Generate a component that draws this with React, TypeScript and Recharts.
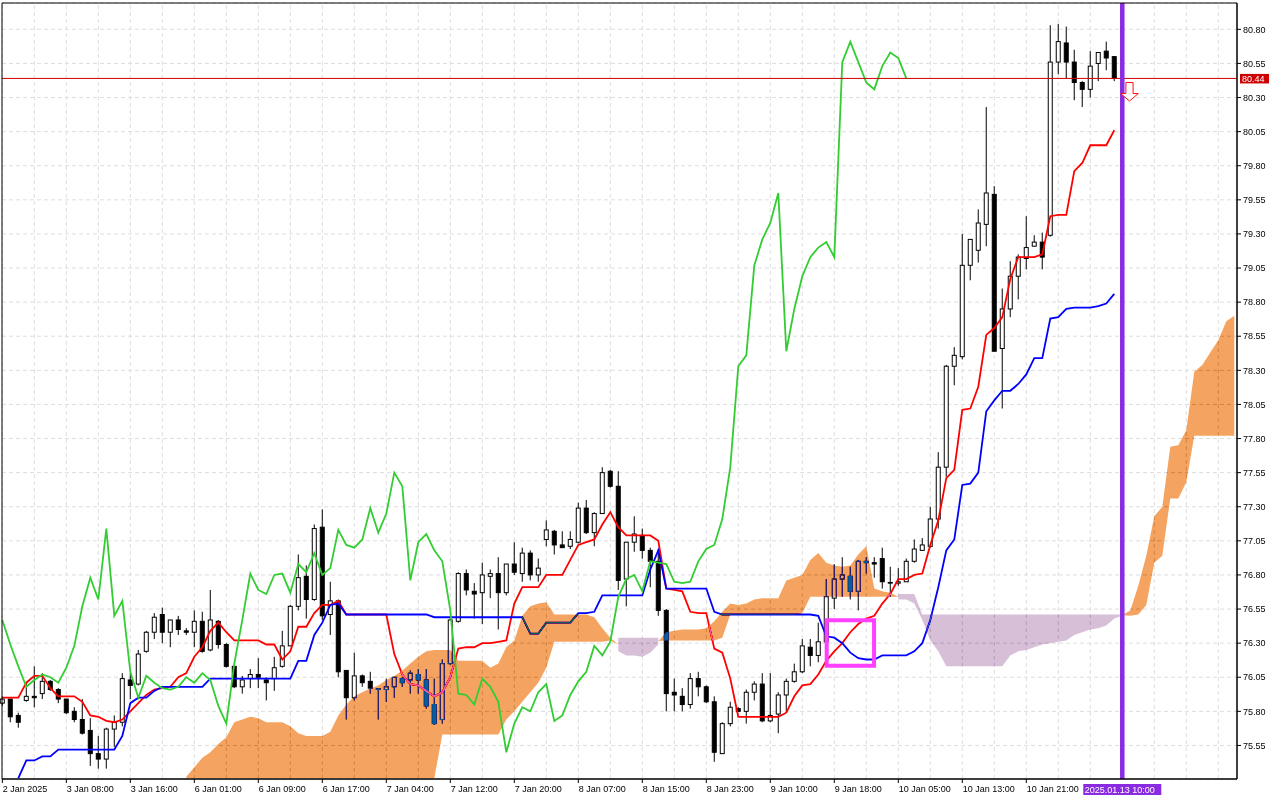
import React from "react";
import {
  ComposedChart,
  Bar,
  Line,
  Area,
  Scatter,
  XAxis,
  YAxis,
  CartesianGrid,
  ReferenceLine,
  ReferenceArea,
} from "recharts";

// hourly candles, bar 0 = 2 Jan 2025
const opens = [
  75.86, 75.89, 75.77, 75.88, 75.91, 75.93, 76.02, 75.96, 75.89, 75.8,
  75.74, 75.66, 75.49, 75.45, 75.67, 75.72, 76.03, 76.0, 76.24, 76.38,
  76.51, 76.38, 76.47, 76.39, 76.38, 76.46, 76.25, 76.46, 76.29, 76.13,
  75.98, 76.04, 76.07, 76.03, 76.04, 76.13, 76.28, 76.57, 76.79, 76.62,
  77.15, 76.51, 76.61, 76.1, 75.9, 76.06, 76.02, 75.965, 75.96, 75.98,
  76.04, 76.03, 76.07, 76.03, 75.85, 75.74, 76.15, 76.46, 76.81, 76.68,
  76.67, 76.79, 76.81, 76.67, 76.88, 76.81, 76.96, 76.8, 77.06, 77.12,
  77.02, 77.01, 77.04, 77.29, 77.11, 77.25, 77.56, 77.45, 76.77, 77.04,
  77.09, 76.98, 76.9, 76.54, 75.94, 75.91, 75.85, 76.04, 75.98, 75.87,
  75.49, 75.71, 75.82, 75.8, 75.94, 76.0, 75.73, 75.78, 75.92, 76.02,
  76.09, 76.27, 76.21, 76.31, 76.63, 76.77, 76.79, 76.68, 76.9, 76.89,
  76.92, 76.745, 76.74, 76.75, 76.9, 76.98, 77.01, 77.21, 77.59, 78.33,
  78.4, 79.07, 79.18, 79.37, 79.59, 78.46, 78.75, 78.99, 79.12, 79.21,
  79.24, 79.29, 80.56, 80.7, 80.56, 80.41, 80.36, 80.55, 80.64, 80.6,
];
const highs = [
  75.91, 75.89, 75.79, 76.01, 76.13, 76.08, 76.03, 75.97, 75.89, 75.83,
  75.89, 75.75, 75.62, 75.68, 75.77, 76.08, 76.08, 76.25, 76.39, 76.52,
  76.56, 76.47, 76.5, 76.41, 76.54, 76.53, 76.69, 76.47, 76.3, 76.13,
  76.06, 76.11, 76.19, 76.05, 76.2, 76.39, 76.58, 76.95, 76.87, 77.17,
  77.28, 76.75, 76.62, 76.1, 76.23, 76.07, 76.09, 75.97, 76.04, 76.05,
  76.05, 76.1, 76.11, 76.11, 76.04, 76.18, 76.48, 76.82, 76.84, 76.74,
  76.89, 76.84, 76.93, 76.88, 77.04, 77.0, 76.98, 76.92, 77.2, 77.13,
  77.12, 77.12, 77.33, 77.35, 77.26, 77.59, 77.57, 77.56, 77.04, 77.23,
  77.14, 77.0, 76.99, 76.55, 76.04, 75.97, 76.08, 76.09, 75.99, 75.91,
  75.72, 75.87, 75.83, 75.96, 76.02, 76.08, 76.08, 75.94, 76.04, 76.15,
  76.33, 76.33, 76.45, 76.77, 76.88, 76.93, 76.86, 76.91, 76.93, 76.93,
  77.0, 76.86, 76.85, 76.92, 77.06, 77.07, 77.3, 77.7, 78.34, 78.47,
  79.3, 79.26, 79.48, 80.23, 79.65, 78.9, 79.1, 79.15, 79.43, 79.29,
  79.31, 80.83, 80.84, 80.82, 80.65, 80.42, 80.64, 80.63, 80.71, 80.6,
];
const lows = [
  75.84, 75.72, 75.68, 75.87, 75.83, 75.89, 75.95, 75.86, 75.78, 75.72,
  75.63, 75.4, 75.38, 75.38, 75.54, 75.69, 75.89, 75.99, 76.23, 76.33,
  76.3, 76.27, 76.36, 76.36, 76.27, 76.23, 76.24, 76.26, 76.12, 75.97,
  75.93, 75.97, 75.97, 75.88, 75.95, 76.12, 76.28, 76.54, 76.48, 76.61,
  76.47, 76.36, 76.05, 75.74, 75.88, 75.98, 75.93, 75.74, 75.87, 75.9,
  75.98, 75.93, 75.93, 75.82, 75.7, 75.71, 76.14, 76.45, 76.65, 76.48,
  76.44, 76.63, 76.4, 76.65, 76.8, 76.75, 76.76, 76.75, 77.01, 76.95,
  77.0, 76.99, 77.03, 77.1, 77.01, 77.25, 77.44, 76.69, 76.57, 76.97,
  76.92, 76.71, 76.5, 75.8, 75.8, 75.8, 75.82, 75.91, 75.86, 75.43,
  75.49, 75.69, 75.8, 75.71, 75.88, 75.72, 75.72, 75.64, 75.79, 76.01,
  76.08, 76.13, 76.16, 76.3, 76.55, 76.64, 76.62, 76.54, 76.81, 76.78,
  76.7, 76.64, 76.72, 76.75, 76.89, 76.98, 77.0, 77.14, 77.52, 78.19,
  78.38, 78.96, 79.09, 79.21, 78.44, 78.02, 78.69, 78.82, 79.04, 79.21,
  79.04, 79.28, 80.47, 80.44, 80.28, 80.23, 80.3, 80.42, 80.5, 80.42,
];
const closes = [
  75.89, 75.76, 75.72, 75.91, 75.9, 76.02, 75.96, 75.89, 75.79, 75.74,
  75.64, 75.49, 75.45, 75.67, 75.72, 76.04, 75.99, 76.22, 76.38, 76.49,
  76.38, 76.47, 76.4, 76.38, 76.46, 76.24, 76.47, 76.29, 76.13, 75.98,
  76.03, 76.07, 76.05, 76.01, 76.12, 76.28, 76.57, 76.78, 76.62, 77.14,
  76.5, 76.61, 76.09, 75.9, 76.06, 76.01, 75.97, 75.96, 75.98, 76.05,
  76.01, 76.08, 76.03, 75.84, 75.71, 76.15, 76.47, 76.81, 76.69, 76.66,
  76.8, 76.81, 76.67, 76.88, 76.82, 76.96, 76.8, 76.85, 77.13, 77.02,
  77.0, 77.06, 77.29, 77.11, 77.25, 77.55, 77.45, 76.76, 77.04, 77.1,
  76.98, 76.9, 76.54, 75.93, 75.92, 75.85, 76.04, 75.98, 75.87, 75.5,
  75.71, 75.83, 75.8, 75.94, 76.0, 75.73, 75.77, 75.92, 76.02, 76.09,
  76.28, 76.21, 76.31, 76.64, 76.77, 76.8, 76.68, 76.9, 76.89, 76.88,
  76.75, 76.74, 76.75, 76.9, 76.99, 77.02, 77.21, 77.59, 78.33, 78.41,
  79.07, 79.26, 79.38, 79.6, 78.44, 78.75, 78.99, 79.13, 79.2, 79.24,
  79.13, 80.56, 80.71, 80.56, 80.41, 80.36, 80.53, 80.63, 80.59, 80.44,
];

// Tenkan-sen (red) and Kijun-sen (blue), one value per bar
const tenkan = [
  75.9, 75.9, 75.9, 76.01, 76.06, 76.06, 75.97, 75.91, 75.91, 75.91,
  75.87, 75.77, 75.76, 75.73, 75.72, 75.74, 75.8, 75.86, 75.92, 75.96,
  75.97, 75.98, 76.05, 76.08, 76.2, 76.27, 76.39, 76.45, 76.38, 76.32,
  76.32, 76.32, 76.32, 76.29, 76.29, 76.18, 76.24, 76.42, 76.42, 76.52,
  76.58, 76.58, 76.61, 76.51, 76.51, 76.51, 76.51, 76.51, 76.51, 76.22,
  76.07, 76.0, 75.99, 75.95, 75.91, 75.94, 76.05, 76.26, 76.27, 76.27,
  76.3, 76.3, 76.31, 76.32, 76.59, 76.71, 76.71, 76.71, 76.8, 76.8,
  76.8, 76.91, 77.02, 77.04, 77.06, 77.17, 77.26, 77.15, 77.09, 77.09,
  77.09, 77.09, 77.05, 76.7, 76.69, 76.68, 76.53, 76.52, 76.52, 76.26,
  76.23, 76.04, 75.76, 75.76, 75.76, 75.76, 75.76, 75.76, 75.79, 75.91,
  75.99, 76.0, 76.07, 76.17, 76.24, 76.3, 76.38, 76.44, 76.48, 76.5,
  76.59, 76.66, 76.77, 76.77, 76.8, 76.81, 77.02, 77.2, 77.51, 77.57,
  78.01, 78.02, 78.18, 78.56, 78.61, 78.69, 78.97, 79.13, 79.13, 79.13,
  79.15, 79.43, 79.44, 79.44, 79.76, 79.82, 79.95, 79.95, 79.95, 80.06,
];
const kijun = [
  null, null, 75.31, 75.44, 75.44, 75.47, 75.47, 75.52, 75.52, 75.52,
  75.52, 75.52, 75.52, 75.52, 75.52, 75.62, 75.86, 75.9, 75.9, 75.95,
  75.98, 75.98, 75.98, 75.98, 75.98, 75.98, 76.04, 76.04, 76.04, 76.04,
  76.04, 76.04, 76.04, 76.04, 76.04, 76.04, 76.04, 76.17, 76.17, 76.36,
  76.45, 76.58, 76.59, 76.51, 76.51, 76.51, 76.51, 76.51, 76.51, 76.51,
  76.51, 76.51, 76.51, 76.51, 76.49, 76.49, 76.49, 76.49, 76.49, 76.49,
  76.49, 76.49, 76.49, 76.49, 76.49, 76.49, 76.37, 76.37, 76.45, 76.45,
  76.45, 76.45, 76.52, 76.52, 76.53, 76.65, 76.65, 76.65, 76.65, 76.65,
  76.65, 76.84, 76.98, 76.7, 76.7, 76.7, 76.7, 76.7, 76.7, 76.53,
  76.51, 76.51, 76.51, 76.51, 76.51, 76.51, 76.51, 76.51, 76.51, 76.51,
  76.51, 76.51, 76.5, 76.35, 76.34, 76.3, 76.23, 76.19, 76.18, 76.18,
  76.21, 76.21, 76.21, 76.21, 76.24, 76.3, 76.47, 76.71, 76.98, 77.06,
  77.46, 77.47, 77.55, 78.0, 78.08, 78.15, 78.15, 78.2, 78.27, 78.39,
  78.39, 78.68, 78.69, 78.75, 78.76, 78.76, 78.76, 78.77, 78.79, 78.86,
];

// Senkou spans, already shifted 26 bars ahead; first value is bar 23
const cloudStart = 23;
const spanA = [
  75.32, 75.39, 75.46, 75.5, 75.56, 75.61, 75.72, 75.74, 75.76, 75.75,
  75.72, 75.72, 75.72, 75.69, 75.64, 75.62, 75.62, 75.62, 75.65, 75.77,
  75.85, 75.91, 75.94, 75.97, 75.99, 76.03, 76.06, 76.1, 76.15, 76.2,
  76.24, 76.25, 76.25, 76.25, 76.17, 76.17, 76.17, 76.17, 76.12, 76.15,
  76.27, 76.32, 76.5, 76.57, 76.59, 76.6, 76.51, 76.51, 76.51, 76.51,
  76.51, 76.49, 76.41, 76.34, 76.24, 76.21, 76.21, 76.2, 76.23, 76.29,
  76.38, 76.39, 76.4, 76.4, 76.4, 76.41, 76.46, 76.53, 76.59, 76.58,
  76.59, 76.62, 76.63, 76.63, 76.63, 76.76, 76.78, 76.8, 76.91, 76.96,
  76.89, 76.87, 76.86, 76.87, 76.95, 77.01, 76.7, 76.68, 76.67, 76.62,
  76.62, 76.59, 76.47, 76.32, 76.24, 76.13, 76.13, 76.13, 76.13, 76.13,
  76.13, 76.13, 76.13, 76.21, 76.24, 76.25, 76.27, 76.29, 76.3, 76.31,
  76.32, 76.36, 76.38, 76.4, 76.41, 76.43, 76.48, 76.5, 76.54, 76.72,
  76.94, 77.23, 77.3, 77.74, 77.75, 77.86, 78.29, 78.34, 78.43, 78.52,
  78.66, 78.7,
];
const spanB = [
  75.31, 75.31, 75.31, 75.31, 75.31, 75.31, 75.31, 75.31, 75.31, 75.31,
  75.31, 75.31, 75.31, 75.31, 75.31, 75.31, 75.31, 75.31, 75.31, 75.31,
  75.31, 75.31, 75.31, 75.31, 75.31, 75.31, 75.31, 75.31, 75.31, 75.31,
  75.31, 75.31, 75.63, 75.63, 75.63, 75.63, 75.63, 75.63, 75.63, 75.63,
  75.74, 75.8, 75.87, 75.94, 76.01, 76.12, 76.31, 76.31, 76.31, 76.31,
  76.31, 76.31, 76.31, 76.32, 76.34, 76.34, 76.34, 76.34, 76.34, 76.34,
  76.32, 76.32, 76.32, 76.32, 76.32, 76.32, 76.32, 76.34, 76.51, 76.51,
  76.51, 76.51, 76.51, 76.51, 76.51, 76.51, 76.51, 76.52, 76.64, 76.64,
  76.64, 76.64, 76.64, 76.64, 76.64, 76.64, 76.64, 76.64, 76.64, 76.66,
  76.66, 76.66, 76.51, 76.51, 76.51, 76.51, 76.51, 76.51, 76.51, 76.51,
  76.51, 76.51, 76.51, 76.51, 76.51, 76.51, 76.51, 76.51, 76.51, 76.51,
  76.51, 76.51, 76.51, 76.51, 76.51, 76.51, 76.51, 76.51, 76.5, 76.51,
  76.58, 76.89, 76.94, 77.36, 77.36, 77.48, 77.82, 77.82, 77.82, 77.82,
  77.82, 77.82,
];

const timeTickBars = [0, 8, 16, 24, 32, 40, 48, 56, 64, 72, 80, 88, 96, 104, 112, 120, 128];
const timeLabels = [
  "2 Jan 2025", "3 Jan 08:00", "3 Jan 16:00", "6 Jan 01:00", "6 Jan 09:00",
  "6 Jan 17:00", "7 Jan 04:00", "7 Jan 12:00", "7 Jan 20:00", "8 Jan 07:00",
  "8 Jan 15:00", "8 Jan 23:00", "9 Jan 10:00", "9 Jan 18:00", "10 Jan 05:00",
  "10 Jan 13:00", "10 Jan 21:00",
];
const priceTicks = [
  80.8, 80.55, 80.3, 80.05, 79.8, 79.55, 79.3, 79.05, 78.8, 78.55, 78.3,
  78.05, 77.8, 77.55, 77.3, 77.05, 76.8, 76.55, 76.3, 76.05, 75.8, 75.55,
];

const lastPrice = 80.44;
const cursorBar = 140;
const cursorLabel = "2025.01.13 10:00";
const chikouShift = 26;
const signalBox = { x1: 103.05, x2: 108.97, y1: 76.134, y2: 76.467 };
const signalArrow = [{ i: 140.9, price: 80.41 }];

const PRICE_MIN = 75.304;
const PRICE_MAX = 80.993;
const BAR_MIN = -0.04;
const BAR_MAX = 154.34;
const TOTAL_BARS = 155;

const FONT = "'Liberation Sans', Arial, sans-serif";

const isOrange = (j: number) => {
  const k = j - cloudStart;
  if (k < 0 || k >= spanA.length) return null;
  return spanA[k] >= spanB[k];
};

const rows = Array.from({ length: TOTAL_BARS }, (_, i) => {
  const has = i < opens.length;
  const k = i - cloudStart;
  let orange: number[] | null = null;
  let lilac: number[] | null = null;
  if (k >= 0 && k < spanA.length) {
    const a = spanA[k];
    const b = spanB[k];
    if (a >= b) {
      orange = [b, a];
    } else {
      lilac = [a, b];
      // let the orange fill taper into its neighbour so no white gap shows
      if (isOrange(i - 1) || isOrange(i + 1)) orange = [(a + b) / 2, (a + b) / 2];
    }
  }
  const ch = i + chikouShift < closes.length ? closes[i + chikouShift] : null;
  return {
    i,
    o: has ? opens[i] : null,
    h: has ? highs[i] : null,
    l: has ? lows[i] : null,
    c: has ? closes[i] : null,
    range: has ? [lows[i], highs[i]] : null,
    tenkan: has ? tenkan[i] : null,
    kijun: has ? kijun[i] : null,
    chikou: ch,
    orange,
    lilac,
  };
});

const gridBars = Array.from({ length: 39 }, (_, k) => k * 4);

const Candle = (props: any) => {
  const { x, y, width, height, payload } = props;
  if (payload == null || payload.h == null) return null;
  const cx = x + width / 2;
  const span = payload.h - payload.l;
  const k = span > 0 ? height / span : 0;
  const py = (p: number) => y + (payload.h - p) * k;
  const top = py(Math.max(payload.o, payload.c));
  const bot = py(Math.min(payload.o, payload.c));
  const up = payload.c >= payload.o;
  return (
    <g>
      <line x1={cx} x2={cx} y1={y} y2={y + height} stroke="#000" strokeWidth={1} />
      <rect
        x={cx - 2}
        y={top}
        width={4}
        height={Math.max(bot - top, 0.4)}
        fill={up ? "#fff" : "#000"}
        stroke="#000"
        strokeWidth={1}
      />
    </g>
  );
};

const TimeTick = (props: any) => {
  const { x, y, payload } = props;
  const idx = timeTickBars.indexOf(payload.value);
  return (
    <text x={x + 0.5} y={y} dy={7} fontSize={9} fontFamily={FONT} fill="#000" textAnchor="start">
      {idx >= 0 ? timeLabels[idx] : ""}
    </text>
  );
};

const PriceTag = (props: any) => {
  const vb = props.viewBox || {};
  const x = vb.x + vb.width + 3;
  const y = vb.y;
  return (
    <g>
      <rect x={x} y={y - 4.5} width={29} height={9.5} fill="#cc0000" />
      <text x={x + 2} y={y + 3.4} fontSize={9} fontFamily={FONT} fill="#fff">
        {lastPrice.toFixed(2)}
      </text>
    </g>
  );
};

const CursorTag = (props: any) => {
  const vb = props.viewBox || {};
  const x = vb.x;
  const y = vb.y + vb.height;
  return (
    <g>
      <rect x={x - 39} y={y + 5} width={78} height={11} fill="#8a2be2" />
      <text x={x - 37.5} y={y + 14} fontSize={9} fontFamily={FONT} fill="#fff">
        {cursorLabel}
      </text>
    </g>
  );
};

const Arrow = (props: any) => {
  const { cx, cy } = props;
  const d = `M${cx - 3.6},${cy} L${cx + 3.6},${cy} L${cx + 3.6},${cy + 11} L${cx + 8.8},${cy + 11} L${cx},${cy + 18.5} L${cx - 8.8},${cy + 11} L${cx - 3.6},${cy + 11} Z`;
  return <path d={d} fill="#fff" stroke="#ff1010" strokeWidth={1} />;
};

export default function App() {
  return (
    <div style={{ position: "absolute", left: 0, top: 0, width: 1280, height: 800, background: "#fff" }}>
      <style>{".cloud-fill path{mix-blend-mode:difference}.recharts-surface{background:#fff}"}</style>
      <ComposedChart
        width={1280}
        height={800}
        data={rows}
        margin={{ top: 3, right: 0, bottom: 1, left: 2 }}
        barCategoryGap={0}
      >
        <CartesianGrid vertical={false} stroke="#dedede" strokeDasharray="4 3" zIndex={-100} />
        {gridBars.map((b) => (
          <ReferenceLine key={b} x={b} stroke="#dedede" strokeDasharray="4 3" zIndex={-90} />
        ))}
        <XAxis
          dataKey="i"
          type="number"
          domain={[BAR_MIN, BAR_MAX]}
          ticks={timeTickBars}
          interval={0}
          height={20}
          tickSize={4}
          tickMargin={2}
          tick={<TimeTick />}
          axisLine={{ stroke: "#000" }}
          tickLine={{ stroke: "#000" }}
        />
        <YAxis
          orientation="right"
          type="number"
          domain={[PRICE_MIN, PRICE_MAX]}
          ticks={priceTicks}
          interval={0}
          width={43}
          tickSize={4}
          tickMargin={2}
          tickFormatter={(v: number) => v.toFixed(2)}
          tick={{ fontSize: 9, fontFamily: FONT, fill: "#000" }}
          axisLine={{ stroke: "#000" }}
          tickLine={{ stroke: "#000" }}
        />
        <Bar dataKey="range" barSize={5} shape={<Candle />} isAnimationActive={false} />
        <Line dataKey="tenkan" stroke="#ff0000" strokeWidth={1.8} dot={false} activeDot={false} isAnimationActive={false} />
        <Line dataKey="kijun" stroke="#0000ff" strokeWidth={1.8} dot={false} activeDot={false} isAnimationActive={false} />
        <Area
          dataKey="lilac"
          className="cloud-fill"
          fill="#274027"
          fillOpacity={1}
          stroke="none"
          isAnimationActive={false}
          zIndex={450}
        />
        <Area
          dataKey="orange"
          className="cloud-fill"
          fill="#0b5b9f"
          fillOpacity={1}
          stroke="none"
          isAnimationActive={false}
          zIndex={451}
        />
        <Line
          dataKey="chikou"
          stroke="#32cd32"
          strokeWidth={1.8}
          dot={false}
          activeDot={false}
          isAnimationActive={false}
          zIndex={460}
        />
        <ReferenceLine y={lastPrice} stroke="#d00000" strokeWidth={1} label={<PriceTag />} zIndex={470} />
        <ReferenceLine x={cursorBar} stroke="#8a2be2" strokeWidth={4.5} label={<CursorTag />} zIndex={480} />
        <ReferenceArea
          x1={signalBox.x1}
          x2={signalBox.x2}
          y1={signalBox.y1}
          y2={signalBox.y2}
          fill="none"
          fillOpacity={0}
          stroke="#ff40ff"
          strokeWidth={4}
          zIndex={490}
        />
        <Scatter data={signalArrow} dataKey="price" shape={<Arrow />} isAnimationActive={false} zIndex={600} />
        <ReferenceArea
          x1={BAR_MIN}
          x2={BAR_MAX}
          y1={PRICE_MIN}
          y2={PRICE_MAX}
          fill="none"
          fillOpacity={0}
          stroke="#000"
          strokeWidth={1}
          zIndex={610}
        />
      </ComposedChart>
    </div>
  );
}
